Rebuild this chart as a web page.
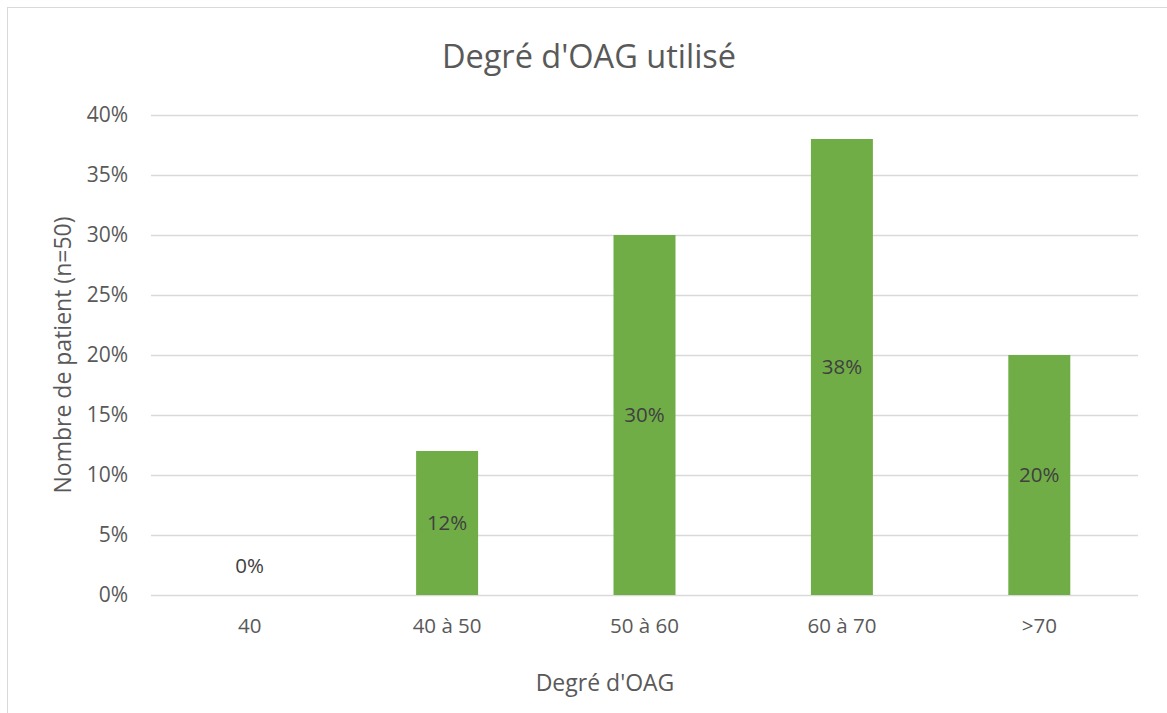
<!DOCTYPE html>
<html>
<head>
<meta charset="utf-8">
<script src="https://cdn.jsdelivr.net/npm/d3@7"></script>
<style>
  body { margin: 0; background: #fff; }
  text { font-family: 'Open Sans', sans-serif; }
</style>
</head>
<body>
<div id="chart"></div>
<script>
const width = 1167;
const height = 713;

// Data
const categories = ['40', '40 à 50', '50 à 60', '60 à 70', '>70'];
const values = [0, 12, 30, 38, 20];
const yTicks = [0, 5, 10, 15, 20, 25, 30, 35, 40];

const margin = { top: 115, right: 29, bottom: 118, left: 151 };

const svg = d3
  .select('#chart')
  .append('svg')
  .attr('width', width)
  .attr('height', height);

// chart border
svg
  .append('rect')
  .attr('x', 7.5)
  .attr('y', 7.5)
  .attr('width', width)
  .attr('height', height)
  .attr('fill', 'none')
  .attr('stroke', '#d9d9d9');

const x = d3
  .scaleBand()
  .domain(categories)
  .range([margin.left, width - margin.right]);

const y = d3
  .scaleLinear()
  .domain([0, 40])
  .range([height - margin.bottom, margin.top]);

// gridlines
svg
  .append('g')
  .selectAll('line')
  .data(yTicks)
  .join('line')
  .attr('x1', margin.left)
  .attr('x2', width - margin.right)
  .attr('y1', (d) => Math.round(y(d)) + 0.5)
  .attr('y2', (d) => Math.round(y(d)) + 0.5)
  .attr('stroke', '#d9d9d9')
  .attr('stroke-width', 1.3);

// y tick labels
svg
  .append('g')
  .selectAll('text')
  .data(yTicks)
  .join('text')
  .attr('x', 128)
  .attr('y', (d) => y(d))
  .attr('dy', '0.35em')
  .attr('text-anchor', 'end')
  .attr('fill', '#595959')
  .style('font-size', '21px')
  .text((d) => d + '%');

// bars
const barW = x.bandwidth() * 0.314;
svg
  .append('g')
  .selectAll('rect')
  .data(values)
  .join('rect')
  .attr('x', (d, i) => x(categories[i]) + x.bandwidth() / 2 - barW / 2)
  .attr('y', (d) => y(d))
  .attr('width', barW)
  .attr('height', (d) => y(0) - y(d))
  .attr('fill', '#70ad47');

// data labels
svg
  .append('g')
  .selectAll('text')
  .data(values)
  .join('text')
  .attr('x', (d, i) => x(categories[i]) + x.bandwidth() / 2)
  .attr('y', (d) => (d === 0 ? y(0) - 29 : (y(d) + y(0)) / 2))
  .attr('dy', '0.35em')
  .attr('text-anchor', 'middle')
  .attr('fill', '#404040')
  .style('font-size', '20.5px')
  .text((d) => d + '%');

// x tick labels
svg
  .append('g')
  .selectAll('text')
  .data(categories)
  .join('text')
  .attr('x', (d) => x(d) + x.bandwidth() / 2)
  .attr('y', y(0) + 31)
  .attr('dy', '0.35em')
  .attr('text-anchor', 'middle')
  .attr('fill', '#595959')
  .style('font-size', '20.5px')
  .text((d) => d);

// title
svg
  .append('text')
  .attr('x', 589)
  .attr('y', 57)
  .attr('dy', '0.35em')
  .attr('text-anchor', 'middle')
  .attr('fill', '#595959')
  .style('font-size', '32.5px')
  .text("Degré d'OAG utilisé");

// axis titles
svg
  .append('text')
  .attr('x', 605)
  .attr('y', 683)
  .attr('dy', '0.35em')
  .attr('text-anchor', 'middle')
  .attr('fill', '#595959')
  .style('font-size', '23px')
  .text("Degré d'OAG");

svg
  .append('text')
  .attr('transform', 'translate(63,355) rotate(-90)')
  .attr('dy', '0.35em')
  .attr('text-anchor', 'middle')
  .attr('fill', '#595959')
  .style('font-size', '23px')
  .text('Nombre de patient (n=50)');
</script>
</body>
</html>
